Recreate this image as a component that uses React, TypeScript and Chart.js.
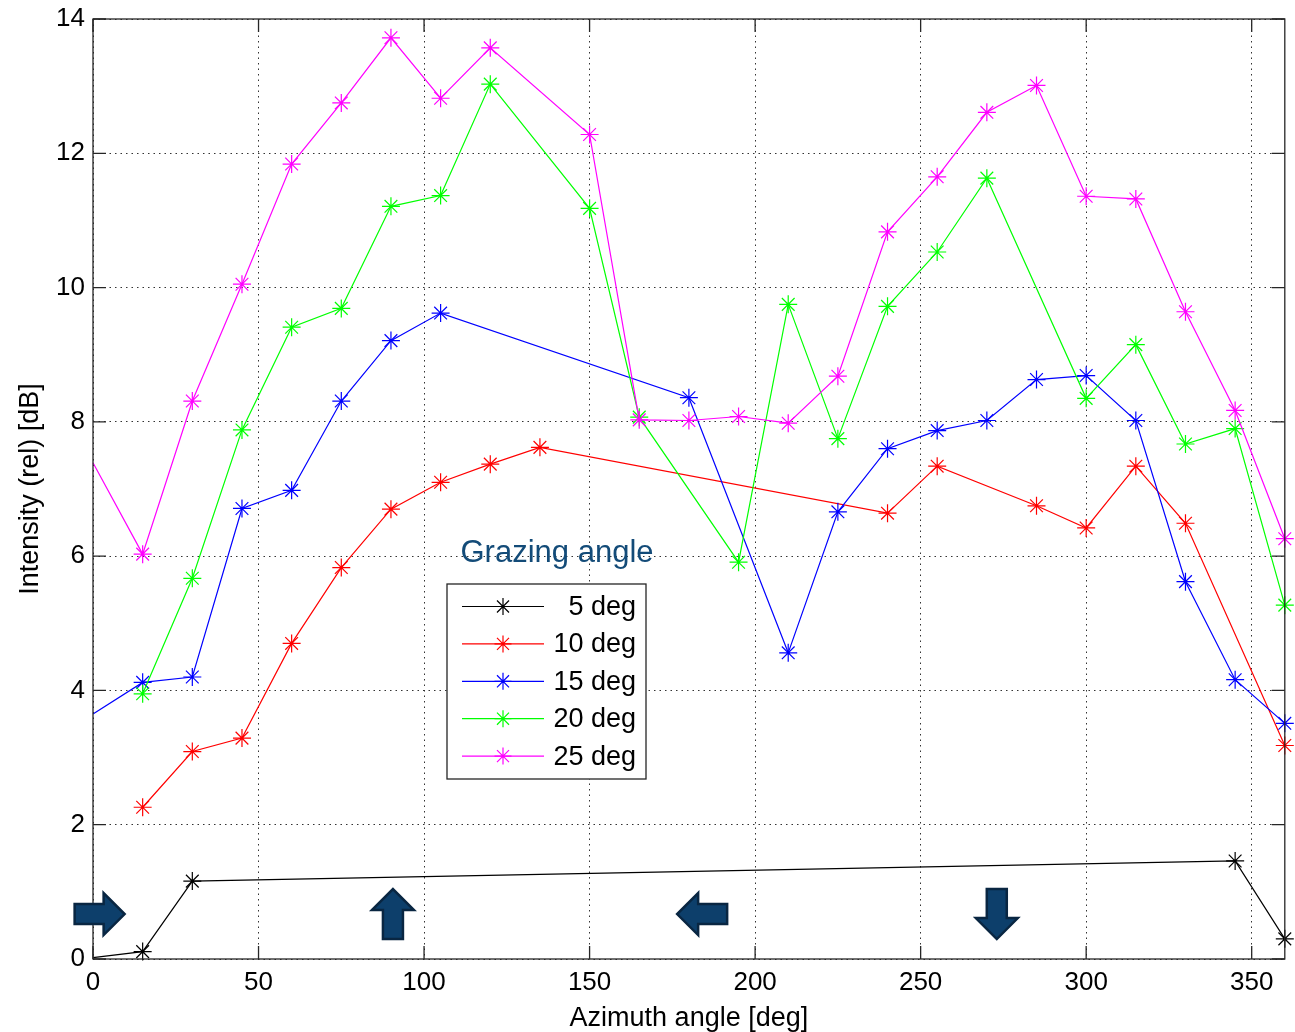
import React, { useEffect, useRef } from "react";
import { Chart, registerables } from "chart.js";

Chart.register(...registerables);

// ---- Data (azimuth [deg] and intensity [dB]) ----
const seriesLabels = ["5 deg", "10 deg", "15 deg", "20 deg", "25 deg"];
const seriesColors = ["#000000", "#FF0000", "#0000FF", "#00FF00", "#FF00FF"];

const azimuth5 = [0, 15, 30, 345, 360];
const values5 = [0.02, 0.11, 1.16, 1.46, 0.3];

const azimuth10 = [15, 30, 45, 60, 75, 90, 105, 120, 135, 240, 255, 285, 300, 315, 330, 360];
const values10 = [2.26, 3.09, 3.29, 4.7, 5.83, 6.7, 7.1, 7.37, 7.62, 6.64, 7.34, 6.75, 6.42, 7.34, 6.49, 3.18];

const azimuth15 = [0, 15, 30, 45, 60, 75, 90, 105, 180, 210, 225, 240, 255, 270, 285, 300, 315, 330, 345, 360];
const values15 = [3.65, 4.12, 4.2, 6.71, 6.98, 8.31, 9.21, 9.62, 8.36, 4.56, 6.66, 7.6, 7.87, 8.02, 8.63, 8.69, 8.02, 5.62, 4.16, 3.51];

const azimuth20 = [15, 30, 45, 60, 75, 90, 105, 120, 150, 165, 195, 210, 225, 240, 255, 270, 300, 315, 330, 345, 360];
const values20 = [3.95, 5.67, 7.88, 9.41, 9.69, 11.21, 11.37, 13.03, 11.18, 8.07, 5.91, 9.75, 7.75, 9.72, 10.53, 11.63, 8.35, 9.15, 7.67, 7.9, 5.27];

const azimuth25 = [0, 15, 30, 45, 60, 75, 90, 105, 120, 150, 165, 180, 195, 210, 225, 240, 255, 270, 285, 300, 315, 330, 345, 360];
const values25 = [7.39, 6.03, 8.31, 10.05, 11.84, 12.75, 13.72, 12.82, 13.57, 12.28, 8.03, 8.02, 8.08, 7.98, 8.68, 10.83, 11.65, 12.61, 13.01, 11.36, 11.32, 9.64, 8.17, 6.26];

const seriesAzimuths = [azimuth5, azimuth10, azimuth15, azimuth20, azimuth25];
const seriesValues = [values5, values10, values15, values20, values25];

// Direction arrows (azimuth position, direction)
const arrowAzimuths = [2, 90.6, 184, 273];
const arrowDirections = ["right", "up", "left", "down"];
const arrowLevel = 0.67;

const xTitle = "Azimuth angle [deg]";
const yTitle = "Intensity (rel) [dB]";
const legendTitle = "Grazing angle";

const FONT = "'Liberation Sans', Arial, Helvetica, sans-serif";

const framePlugin = {
  id: "frameTicks",
  afterDatasetsDraw(chart: any) {
    const { ctx, chartArea: a, scales } = chart;
    ctx.save();
    ctx.strokeStyle = "#262626";
    ctx.lineWidth = 1.3;
    ctx.setLineDash([]);
    ctx.strokeRect(a.left, a.top, a.right - a.left, a.bottom - a.top);
    const tl = 13;
    ctx.beginPath();
    for (const t of scales.x.ticks) {
      const px = scales.x.getPixelForValue(t.value);
      ctx.moveTo(px, a.bottom);
      ctx.lineTo(px, a.bottom - tl);
      ctx.moveTo(px, a.top);
      ctx.lineTo(px, a.top + tl);
    }
    for (const t of scales.y.ticks) {
      const py = scales.y.getPixelForValue(t.value);
      ctx.moveTo(a.left, py);
      ctx.lineTo(a.left + tl, py);
      ctx.moveTo(a.right, py);
      ctx.lineTo(a.right - tl, py);
    }
    ctx.stroke();
    ctx.restore();
  },
};

function drawStar(ctx: CanvasRenderingContext2D, x: number, y: number, r: number) {
  const d = r * Math.SQRT1_2;
  ctx.beginPath();
  ctx.moveTo(x - r, y);
  ctx.lineTo(x + r, y);
  ctx.moveTo(x, y - r);
  ctx.lineTo(x, y + r);
  ctx.moveTo(x - d, y - d);
  ctx.lineTo(x + d, y + d);
  ctx.moveTo(x - d, y + d);
  ctx.lineTo(x + d, y - d);
  ctx.stroke();
}

const legendPlugin = {
  id: "insideLegend",
  afterDraw(chart: any) {
    const { ctx } = chart;
    const left = 447;
    const top = 584;
    const w = 199;
    const h = 195;
    ctx.save();
    ctx.fillStyle = "#ffffff";
    ctx.fillRect(left, top, w, h);
    ctx.strokeStyle = "#262626";
    ctx.lineWidth = 1.3;
    ctx.strokeRect(left, top, w, h);
    chart.data.datasets.forEach((ds: any, i: number) => {
      const y = top + 22.5 + i * 37.4;
      ctx.strokeStyle = ds.borderColor;
      ctx.lineWidth = 1.2;
      ctx.beginPath();
      ctx.moveTo(left + 15, y);
      ctx.lineTo(left + 97, y);
      ctx.stroke();
      drawStar(ctx, left + 56, y, 8.5);
      ctx.fillStyle = "#000000";
      ctx.font = `27px ${FONT}`;
      ctx.textAlign = "right";
      ctx.textBaseline = "middle";
      ctx.fillText(ds.label, left + 189, y + 1);
    });
    // legend title
    ctx.fillStyle = "#134B78";
    ctx.font = `31px ${FONT}`;
    ctx.textAlign = "center";
    ctx.textBaseline = "alphabetic";
    ctx.fillText(legendTitle, 557, 562);

    // direction arrows
    const xs = chart.scales.x;
    const ys = chart.scales.y;
    arrowAzimuths.forEach((az, i) => {
      const cx = xs.getPixelForValue(az);
      const cy = ys.getPixelForValue(arrowLevel);
      const dir = arrowDirections[i];
      const ang = dir === "right" ? 0 : dir === "down" ? Math.PI / 2 : dir === "left" ? Math.PI : -Math.PI / 2;
      const L = 50;
      const H = 42;
      const T = 20;
      const HL = 21;
      ctx.save();
      ctx.translate(cx, cy);
      ctx.rotate(ang);
      ctx.beginPath();
      ctx.moveTo(-L / 2, -T / 2);
      ctx.lineTo(L / 2 - HL, -T / 2);
      ctx.lineTo(L / 2 - HL, -H / 2);
      ctx.lineTo(L / 2, 0);
      ctx.lineTo(L / 2 - HL, H / 2);
      ctx.lineTo(L / 2 - HL, T / 2);
      ctx.lineTo(-L / 2, T / 2);
      ctx.closePath();
      ctx.fillStyle = "#0D3F6B";
      ctx.fill();
      ctx.strokeStyle = "#092642";
      ctx.lineWidth = 2.5;
      ctx.lineJoin = "miter";
      ctx.stroke();
      ctx.restore();
    });
    ctx.restore();
  },
};

export default function App() {
  const canvasRef = useRef<HTMLCanvasElement | null>(null);

  useEffect(() => {
    document.body.style.margin = "0";
    const canvas = canvasRef.current;
    if (!canvas) return;

    const datasets = seriesLabels.map((label, i) => ({
      label,
      data: seriesAzimuths[i].map((x, j) => ({ x, y: seriesValues[i][j] })),
      borderColor: seriesColors[i],
      backgroundColor: seriesColors[i],
      borderWidth: 1.2,
      pointStyle: "star" as const,
      pointRadius: (c: any) => (c.raw && c.raw.x === 0 ? 0 : 9),
      pointBorderWidth: 1.2,
      pointBorderColor: seriesColors[i],
      tension: 0,
      clip: false as any,
      order: seriesLabels.length - i,
    }));

    const chart = new Chart(canvas, {
      type: "line",
      data: { datasets },
      plugins: [framePlugin, legendPlugin],
      options: {
        animation: false,
        responsive: false,
        maintainAspectRatio: false,
        layout: { padding: { left: 0, right: 8, top: 19, bottom: 0 } },
        plugins: {
          legend: { display: false },
          tooltip: { enabled: false },
          title: { display: false },
        },
        scales: {
          x: {
            type: "linear",
            min: 0,
            max: 360,
            afterFit: (s: any) => {
              s.height = 73;
              s.paddingLeft = 0;
              s.paddingRight = 0;
            },
            ticks: {
              stepSize: 50,
              includeBounds: false,
              color: "#000000",
              font: { size: 26, family: FONT },
              padding: 8,
              maxRotation: 0,
            },
            grid: { color: "#333333", lineWidth: 1, drawTicks: false },
            border: { display: false, dash: [1.5, 4] },
            title: {
              display: true,
              text: xTitle,
              color: "#000000",
              font: { size: 27, family: FONT, lineHeight: 1 },
              padding: { top: 0, bottom: 0 },
            },
          },
          y: {
            type: "linear",
            min: 0,
            max: 14,
            afterFit: (s: any) => {
              s.width = 93;
              s.paddingTop = 0;
              s.paddingBottom = 0;
            },
            ticks: {
              stepSize: 2,
              color: "#000000",
              font: { size: 26, family: FONT },
              padding: 8,
            },
            grid: { color: "#333333", lineWidth: 1, drawTicks: false },
            border: { display: false, dash: [1.5, 4] },
            title: {
              display: true,
              text: yTitle,
              color: "#000000",
              font: { size: 27, family: FONT },
              padding: { top: 14, bottom: 0 },
            },
          },
        },
      },
    });

    return () => {
      chart.destroy();
    };
  }, []);

  return (
    <div style={{ width: 1295, height: 1032, background: "#ffffff" }}>
      <canvas ref={canvasRef} width={1295} height={1032} style={{ display: "block", width: 1295, height: 1032 }} />
    </div>
  );
}
